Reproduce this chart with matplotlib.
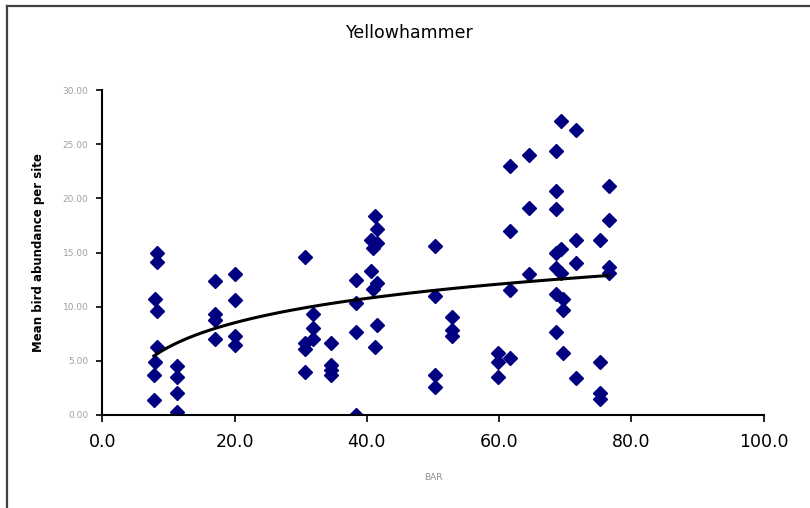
import matplotlib
matplotlib.use("Agg")
import matplotlib.pyplot as plt
from matplotlib.lines import Line2D
import numpy as np

# BAR value per site and the mean bird abundance recorded there
bar = [
    8.2, 8.2, 7.9, 8.3, 8.3, 7.9, 7.8, 7.8,
    11.3, 11.3, 11.3, 11.3,
    17.1, 17.1, 17.1, 17.1,
    20.0, 20.0, 20.0, 20.0,
    30.6, 30.6, 30.6, 30.6,
    31.9, 31.9, 31.9,
    34.6, 34.6, 34.6, 34.6,
    38.4, 38.4, 38.4, 38.4,
    41.25, 41.6, 40.6, 41.6, 40.9, 40.6, 41.6, 40.9, 41.6, 41.25,
    50.3, 50.3, 50.3, 50.3,
    52.95, 52.95, 52.95,
    59.9, 59.9, 59.9,
    61.7, 61.7, 61.7, 61.7,
    64.6, 64.6, 64.6,
    68.6, 68.6, 68.6, 68.6, 68.6, 68.6, 68.6,
    69.3, 69.3, 69.3, 69.6, 69.6, 69.6,
    71.6, 71.6, 71.6, 71.6,
    75.2, 75.2, 75.2, 75.2,
    76.7, 76.7, 76.7, 76.7,
]
abundance = [
    15.0, 14.1, 10.7, 9.6, 6.3, 4.9, 3.7, 1.4,
    4.5, 3.5, 2.0, 0.3,
    12.4, 9.3, 8.8, 7.0,
    13.0, 10.6, 7.3, 6.5,
    14.55, 6.6, 6.05, 4.0,
    9.3, 8.05, 7.0,
    6.6, 4.6, 4.15, 3.7,
    12.5, 10.3, 7.7, 0.0,
    18.4, 17.2, 16.2, 15.9, 15.4, 13.3, 12.15, 11.6, 8.3, 6.3,
    15.6, 11.0, 3.7, 2.6,
    9.0, 7.85, 7.3,
    5.75, 4.85, 3.5,
    23.0, 17.0, 11.5, 5.3,
    24.0, 19.1, 13.0,
    24.4, 20.7, 19.0, 15.0, 13.6, 11.2, 7.7,
    27.1, 15.3, 13.1, 10.7, 9.7, 5.7,
    26.3, 16.2, 14.06, 3.4,
    16.2, 4.9, 2.0, 1.5,
    21.1, 18.0, 13.7, 13.1,
]

x_ticks = [0, 20, 40, 60, 80, 100]
y_ticks = [0, 5, 10, 15, 20, 25, 30]

x = np.array(bar)
y = np.array(abundance)

# logarithmic trendline y = a + b*ln(x), drawn over the range of the data
b, a = np.polyfit(np.log(x), y, 1)
x_fit = np.linspace(x.min(), x.max(), 200)
y_fit = a + b * np.log(x_fit)

fig = plt.figure(figsize=(8.1, 5.08), dpi=100)
ax = fig.add_axes([0.1263, 0.1831, 0.8163, 0.6397])

ax.plot(x, y, linestyle="none", marker="D", ms=7, color="#000080", mec="#000080")
ax.plot(x_fit, y_fit, color="black", lw=2.2)

ax.set_xlim(0, 100)
ax.set_ylim(0, 30)
ax.set_xticks(x_ticks)
ax.set_xticklabels([f"{t:.1f}" for t in x_ticks], fontsize=12.5)
ax.set_yticks(y_ticks)
ax.set_yticklabels([f"{t:.2f}" for t in y_ticks], fontsize=6.5, color="#a0a0a0")
ax.tick_params(axis="x", direction="out", length=5, width=1.2, pad=8)
ax.tick_params(axis="y", direction="out", length=4, width=1.2, pad=6)

for side in ("top", "right"):
    ax.spines[side].set_visible(False)
for side in ("left", "bottom"):
    ax.spines[side].set_linewidth(1.5)
    ax.spines[side].set_clip_on(False)

ax.set_xlabel("BAR", fontsize=6.5, color="#909090", labelpad=16)
ax.set_ylabel("Mean bird abundance per site", fontsize=8.5, fontweight="bold")
ax.yaxis.set_label_coords(-0.086, 0.5)

fig.text(0.506, 0.935, "Yellowhammer", ha="center", va="center", fontsize=12.5)

# chart frame along the top and left edges
fig.add_artist(Line2D([0.0083, 1.0], [0.9885, 0.9885], transform=fig.transFigure,
                      color="#404040", lw=1.6))
fig.add_artist(Line2D([0.0083, 0.0083], [0.0, 0.9885], transform=fig.transFigure,
                      color="#404040", lw=1.6))

fig.savefig("out.png", dpi=100)
